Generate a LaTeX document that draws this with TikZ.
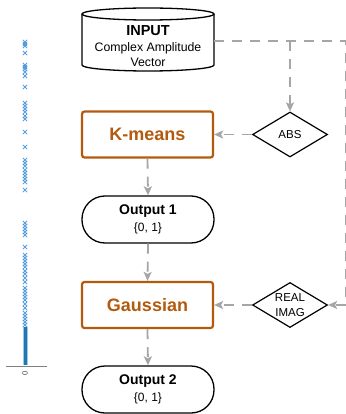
\documentclass[tikz,border=0pt]{standalone}
\usepackage{fontspec}
\setmainfont{Liberation Sans}
\usetikzlibrary{arrows.meta,shapes.geometric}
\definecolor{brn}{HTML}{B35A0C}
\definecolor{dgray}{HTML}{A6A6A6}
\definecolor{mblue}{HTML}{3D8FD6}
\definecolor{pblue}{HTML}{1F77B4}
\begin{document}
\begin{tikzpicture}[x=1pt,y=-1pt,
 proc/.style={draw=brn, line width=2.2pt, rounded corners=2.5pt, minimum width=131pt, minimum height=46pt, text=brn, font=\fontsize{18}{20}\selectfont\bfseries},
 term/.style={draw, line width=1.3pt, rounded corners=23pt, minimum width=132pt, minimum height=47pt, align=center, font=\fontsize{12}{17}\selectfont},
 dec/.style={draw, diamond, aspect=1.67, line width=1.2pt, inner sep=0pt, minimum width=75pt, minimum height=45pt, align=center, font=\fontsize{11.5}{15}\selectfont},
 flow/.style={draw=dgray, line width=1.8pt, dash pattern=on 10pt off 8pt},
 tip/.style={-{Stealth[length=9pt,width=8pt,inset=2pt]}},
 mk/.style={mblue, line width=0.75pt, opacity=0.85}
]
\useasboundingbox (0,0) rectangle (345,414);

% ---- cylinder (INPUT)
\draw[line width=1.3pt] (82,14) -- (82,65) arc[start angle=180, end angle=0, x radius=66, y radius=6] -- (214,14);
\draw[line width=1.3pt] (148,14) ellipse[x radius=66, y radius=6];
\node[minimum width=132pt, minimum height=58pt, inner sep=0pt] (input) at (148,41) {};
\node[align=center, font=\fontsize{12.3}{15.5}\selectfont] (intext) at (148,46.5)
  {{\fontsize{14.5}{15.5}\selectfont\bfseries INPUT}\\Complex Amplitude\\Vector};

% ---- process boxes and terminals
\node[proc] (kmeans) at (147.5,134.5) {K-means};
\node[term] (out1) at (148,219.5) {{\fontsize{14}{17}\selectfont\bfseries Output 1}\\\{0, 1\}};
\node[proc] (gauss) at (147.5,305) {Gaussian};
\node[term] (out2) at (148,389.5) {{\fontsize{14}{17}\selectfont\bfseries Output 2}\\\{0, 1\}};

% ---- decisions
\node[dec] (abs) at (290,134.5) {ABS};
\node[dec] (real) at (290,305) {REAL\\IMAG};

% ---- connectors
\coordinate (rc) at (346.2,41);
\draw[flow] (input.east) -- (rc) -- (rc |- real.east);
\draw[flow, tip] (rc |- real.east) -- (real.east);
\draw[flow, tip] (abs.north |- input.east) -- (abs.north);
\draw[flow, tip] (abs.west) -- (kmeans.east);
\draw[flow, tip] (real.west) -- (gauss.east);
\draw[flow, tip] (kmeans.south) -- (out1.north);
\draw[flow, tip] (out1.south) -- (gauss.north);
\draw[flow, tip] (gauss.south) -- (out2.north);

% ---- strip plot on the left
\foreach \yy in {42,44,46,53,65,67,69,72,76,87,103,106,109,112,116,119,132,147,160,163,166,170,173,176,179,182,190,
                 223,226,229,232,235,247,255,258,261,264,267,271,274,278,282,288,291,294,297,300,304,308,313,316,319,322,325}
  \draw[mk] (22.8,\yy-2.2) -- (27.2,\yy+2.2) (22.8,\yy+2.2) -- (27.2,\yy-2.2);
\draw[mblue, line width=5pt, opacity=0.5] (25,327) -- (25,365);
\draw[pblue, line width=3pt] (25,327) -- (25,365);
\coordinate (axl) at (6,366);
\coordinate (axr) at (47,366);
\draw[gray, line width=0.8pt] (axl) -- (axr);
\node[rotate=90, font=\fontsize{7.5}{8}\selectfont, text=darkgray, inner sep=0pt] (zero) at (25,373) {0};
\end{tikzpicture}
\end{document}
